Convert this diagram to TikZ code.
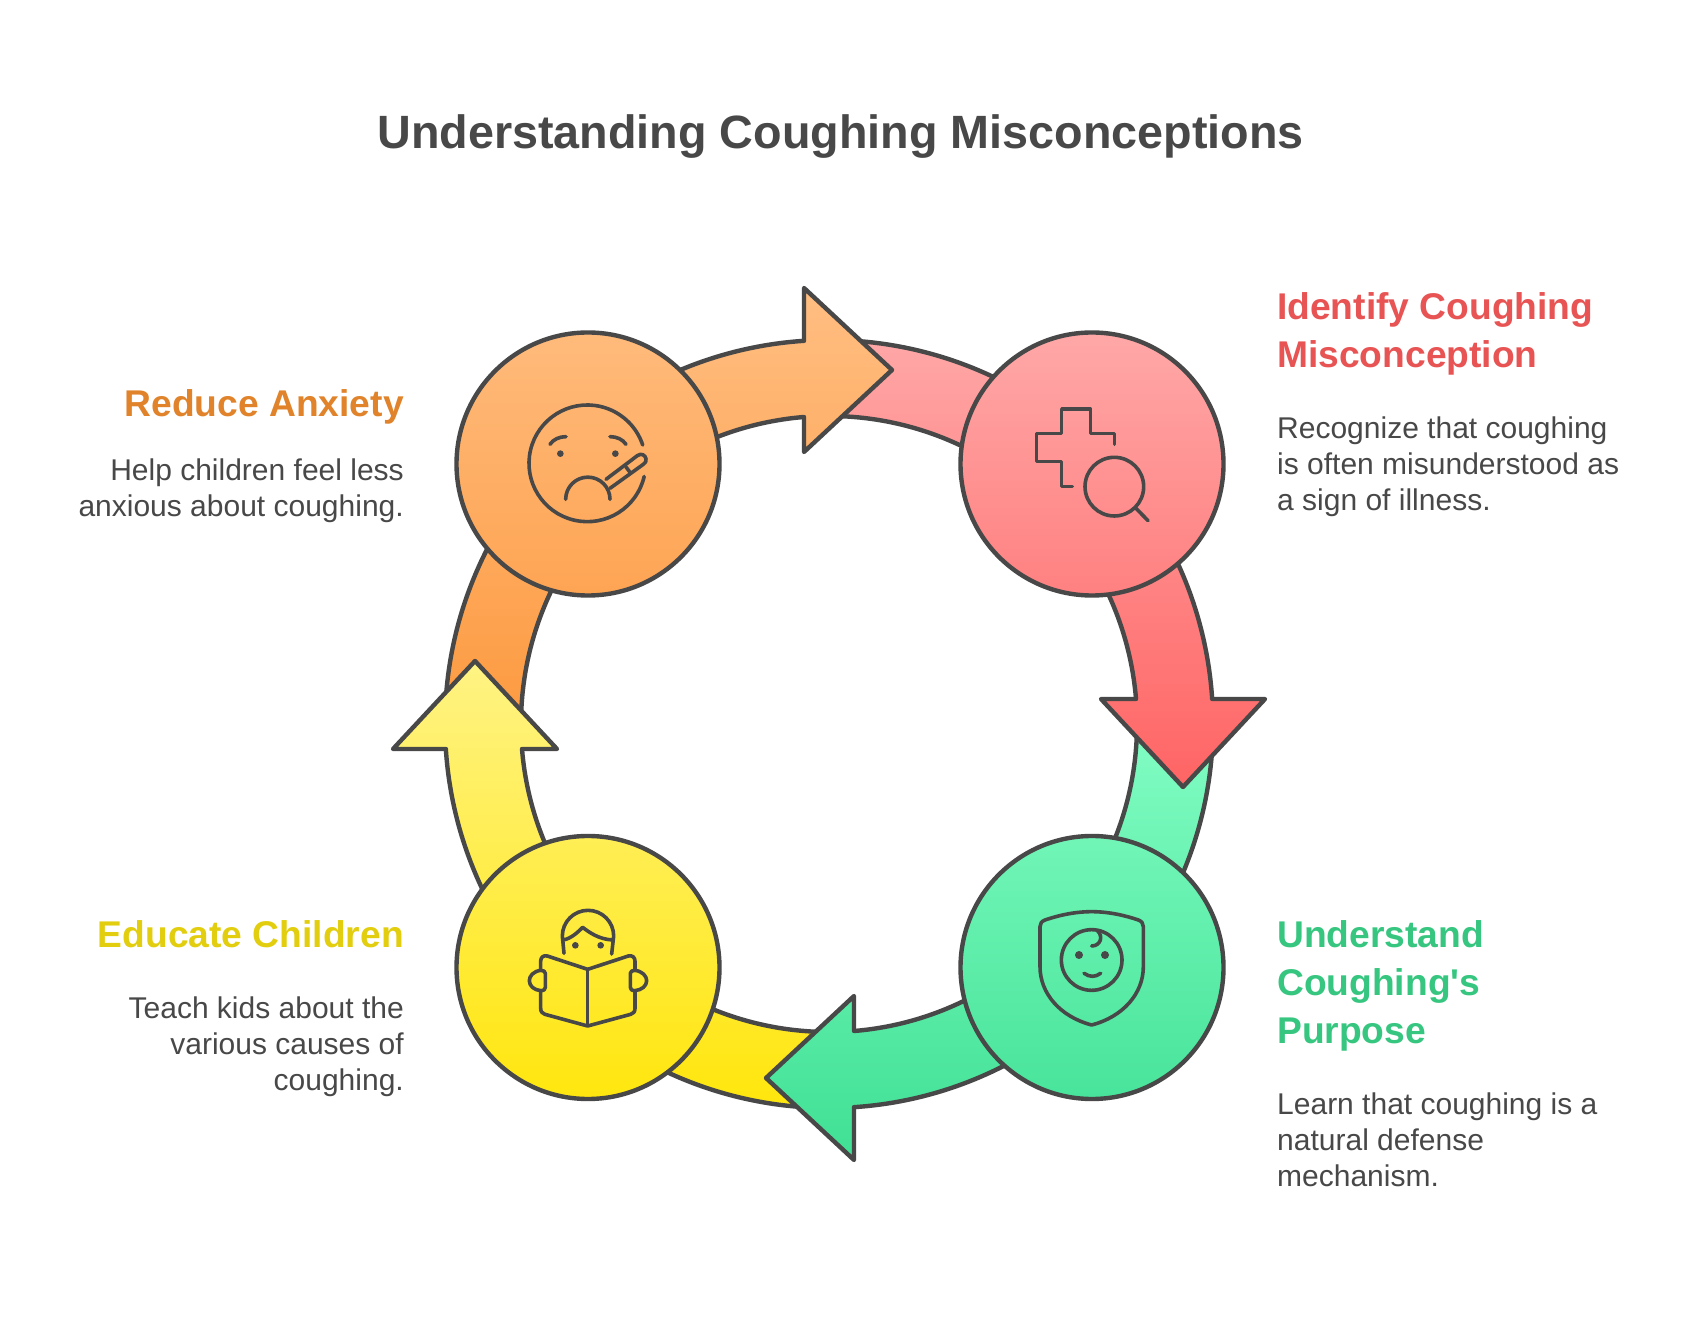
\documentclass[tikz,border=0pt]{standalone}
\usepackage{fontspec}
\setmainfont{Liberation Sans}
\newfontfamily\plainsans{Liberation Sans}
\definecolor{ink}{HTML}{484848}
\definecolor{oT}{HTML}{FFBE82}\definecolor{oB}{HTML}{FD9A40}
\definecolor{rT}{HTML}{FFA8A8}\definecolor{rB}{HTML}{FF6464}
\definecolor{gT}{HTML}{80FCC2}\definecolor{gB}{HTML}{3FE094}
\definecolor{yT}{HTML}{FFF384}\definecolor{yB}{HTML}{FFE60C}
\definecolor{hO}{HTML}{E0832A}\definecolor{hR}{HTML}{E85454}
\definecolor{hG}{HTML}{36C67F}\definecolor{hY}{HTML}{E2CE0F}
\tikzset{
 outline/.style={draw=ink,line width=4.4pt,line join=round,line cap=round},
 iconline/.style={draw=ink,line width=3.6pt,line join=round,line cap=round},
 iconfill/.style={fill=ink,draw=none},
 ttl/.style={font=\fontsize{46.7}{56}\selectfont\bfseries,text=ink,inner sep=0pt,anchor=base},
 hd/.style={font=\fontsize{37.2}{48}\selectfont\bfseries,inner sep=0pt},
 bd/.style={font=\fontsize{30}{36}\selectfont,text=ink,inner sep=0pt},
}
% ring pieces, centred on the ring centre, drawn for the top arrow and then rotated
\def\tailshape{(132:384) arc[start angle=132,end angle=178,radius=384] -- (178:308) arc[start angle=178,end angle=132,radius=308] -- cycle}
\def\tailedges{(132:384) arc[start angle=132,end angle=178,radius=384] (178:308) arc[start angle=178,end angle=132,radius=308]}
\def\headshape{(132:384) arc[start angle=132,end angle=93.73,radius=384] -- (-25,436) -- (63,354) -- (-25,272) -- (-25,307) arc[start angle=94.66,end angle=132,radius=308] -- cycle}
% #1 rotation, #2 top colour, #3 bottom colour, #4 top y, #5 bottom y
\newcommand{\tailpiece}[5]{%
 \begin{scope}\clip[shift={(829,601)},rotate=#1] \tailshape;
 \shade[top color=#2,bottom color=#3] (0,#4) rectangle (1704,#5);\end{scope}
 \draw[outline,shift={(829,601)},rotate=#1] \tailedges;}
\newcommand{\headpiece}[5]{%
 \begin{scope}\clip[shift={(829,601)},rotate=#1] \headshape;
 \shade[top color=#2,bottom color=#3] (0,#4) rectangle (1704,#5);\end{scope}
 \draw[outline,shift={(829,601)},rotate=#1] \headshape;}
\newcommand{\disc}[6]{%
 \begin{scope}\clip (#1,#2) circle[radius=131.5];
 \shade[top color=#3,bottom color=#4] (0,#5) rectangle (1704,#6);\end{scope}
 \draw[outline] (#1,#2) circle[radius=131.5];}
\begin{document}
\begin{tikzpicture}[x=1pt,y=1pt]
\useasboundingbox (0,0) rectangle (1704,1325);
\fill[white] (0,0) rectangle (1704,1325);

\tailpiece{0}{oT}{oB}{1038}{600}
\tailpiece{-90}{rT}{rB}{996}{537}
\tailpiece{-180}{gT}{gB}{588}{164}
\tailpiece{90}{yT}{yB}{665}{217}
\headpiece{0}{oT}{oB}{1038}{600}
\headpiece{-90}{rT}{rB}{996}{537}
\headpiece{-180}{gT}{gB}{588}{164}
\headpiece{90}{yT}{yB}{665}{217}
\disc{588}{861}{oT}{oB}{1038}{600}
\disc{1092}{861}{rT}{rB}{996}{537}
\disc{1092}{357.5}{gT}{gB}{588}{164}
\disc{588}{357.5}{yT}{yB}{665}{217}

% sick face
\begin{scope}[shift={(500,945)},xscale=1/3,yscale=-1/3]
 \draw[iconline] (262,250) ++(13:175) arc[start angle=13,end angle=341.7,radius=175];
 \draw[iconline] (150,193) .. controls (160,178) and (178,170) .. (198,170);
 \draw[iconline] (330,170) .. controls (350,170) and (368,178) .. (378,193);
 \fill[iconfill] (181,221) circle[radius=10];
 \fill[iconfill] (346,221) circle[radius=10];
 \draw[iconline] (197,358) arc[start angle=180,end angle=360,radius=66.5];
 \draw[iconline] (318,298) -- (412,227) .. controls (424,218) and (436,226) .. (438,236) .. controls (440,244) and (436,249) .. (430,253) -- (330,325);
 \draw[iconline] (378,261) -- (390,277);
\end{scope}
% cross and magnifier
\begin{scope}[shift={(1010,945)},xscale=1/3,yscale=-1/3]
 \draw[iconline] (187,320) -- (155,320) -- (155,245) -- (80,245) -- (80,160) -- (155,160) -- (155,87) -- (241,87) -- (241,160) -- (314,160) -- (314,193);
 \draw[iconline] (313,320) circle[radius=88];
 \draw[iconline] (378,385) -- (414,422);
\end{scope}
% shield with baby
\begin{scope}[shift={(1010,445)},xscale=1/3,yscale=-1/3]
 \draw[iconline] (245,95) .. controls (190,95) and (140,108) .. (105,120) .. controls (95,124) and (90,130) .. (90,140) -- (90,260) .. controls (90,340) and (150,410) .. (245,435) .. controls (340,410) and (400,340) .. (400,260) -- (400,140) .. controls (400,130) and (395,124) .. (385,120) .. controls (350,108) and (300,95) .. (245,95) -- cycle;
 \draw[iconline] (245,240) circle[radius=91];
 \draw[iconline] (245,198) .. controls (270,198) and (282,170) .. (262,152);
 \fill[iconfill] (207,225) circle[radius=12];
 \fill[iconfill] (285,225) circle[radius=12];
 \draw[iconline] (222,280) .. controls (240,292) and (255,292) .. (272,280);
\end{scope}
% child reading
\begin{scope}[shift={(500,445)},xscale=1/3,yscale=-1/3]
 \draw[iconline] (192,220) -- (187,168) arc[start angle=180,end angle=360,radius=77] -- (335,222);
 \draw[iconline] (190,180) .. controls (215,175) and (235,155) .. (248,142) .. controls (265,155) and (295,178) .. (338,180);
 \fill[iconfill] (226,196) circle[radius=10];
 \fill[iconfill] (302,196) circle[radius=10];
 \draw[iconline] (263,268) -- (263,436);
 \draw[iconline] (122,270) -- (122,244) .. controls (122,232) and (130,225) .. (142,228) -- (263,268) -- (385,228) .. controls (397,225) and (405,232) .. (405,244) -- (405,270);
 \draw[iconline] (122,332) -- (122,385) .. controls (122,395) and (127,401) .. (135,403) -- (263,438) -- (392,403) .. controls (400,401) and (405,395) .. (405,385) -- (405,332);
 \draw[iconline] (122,271) .. controls (100,274) and (88,288) .. (88,302) .. controls (88,318) and (102,330) .. (122,332) .. controls (132,332) and (136,328) .. (136,322) -- (136,280) .. controls (136,274) and (130,271) .. (122,271) -- cycle;
 \draw[iconline] (405,271) .. controls (427,274) and (440,288) .. (440,302) .. controls (440,318) and (425,330) .. (405,332) .. controls (395,332) and (391,328) .. (391,322) -- (391,280) .. controls (391,274) and (397,271) .. (405,271) -- cycle;
\end{scope}

\node[ttl] (title) at (840.5,1176) {Understanding Coughing Misconceptions};
\node[hd,text=hR,anchor=north west,align=left] (identify) at (1277,1038.8) {\strut Identify Coughing\\\strut Misconception};
\node[bd,anchor=north west,align=left] (identifytext) at (1277,912.2) {\strut Recognize that coughing\\\strut is often misunderstood as\\\strut a sign of illness.};
\node[hd,text=hO,anchor=north east,align=right] (reduce) at (404,942.4) {\strut Reduce Anxiety};
\node[bd,anchor=north east,align=right] (reducetext) at (404,870.2) {\strut Help children feel less\\\strut anxious about coughing.};
\node[hd,text=hY,anchor=north east,align=right] (educate) at (404,410.8) {\strut Educate Children};
\node[bd,anchor=north east,align=right] (educatetext) at (404,332.2) {\strut Teach kids about the\\\strut various causes of\\\strut coughing.};
\node[hd,text=hG,anchor=north west,align=left] (understand) at (1277,410.8) {\strut Understand\\\strut Coughing{\plainsans\bfseries '}s\\\strut Purpose};
\node[bd,anchor=north west,align=left] (understandtext) at (1277,236.2) {\strut Learn that coughing is a\\\strut natural defense\\\strut mechanism.};
\end{tikzpicture}
\end{document}
